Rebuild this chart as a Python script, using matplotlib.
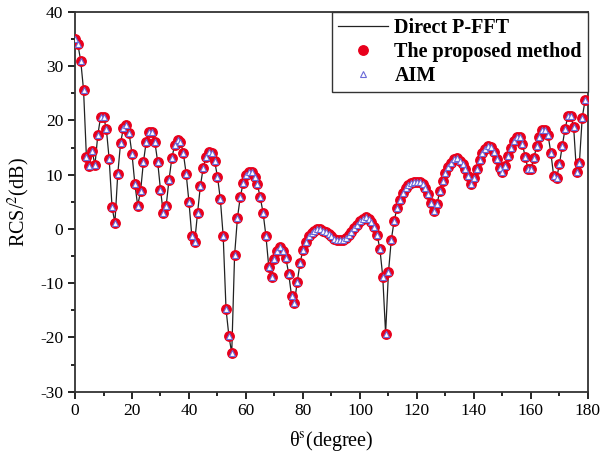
import numpy as np
import matplotlib
matplotlib.use('Agg')
import matplotlib.pyplot as plt

plt.rcParams['font.family'] = ['Liberation Serif', 'DejaVu Serif']
plt.rcParams['mathtext.fontset'] = 'stix'
plt.rcParams['axes.unicode_minus'] = False

# scattering angle (degree), 1 degree steps
theta = np.arange(0, 180)

# RCS values (dB)
rcs_direct = [
    35.0, 34.0, 31.0, 25.6, 13.3, 11.6, 14.3, 11.8, 17.3, 20.7,
    20.7, 18.4, 12.8, 4.0, 1.1, 10.1, 15.9, 18.6, 19.2, 17.6,
    13.8, 8.3, 4.3, 6.9, 12.3, 16.1, 17.8, 17.8, 16.1, 12.4,
    7.2, 2.9, 4.3, 9.1, 13.1, 15.5, 16.4, 16.1, 14.0, 10.2,
    4.9, -1.4, -2.4, 2.9, 7.9, 11.3, 13.3, 14.2, 13.9, 12.5,
    9.6, 5.5, -1.3, -14.8, -19.7, -22.9, -4.9, 2.0, 5.9, 8.4,
    9.9, 10.4, 10.4, 9.6, 8.2, 5.8, 3.0, -1.3, -7.0, -8.9,
    -5.5, -4.0, -3.4, -4.0, -5.4, -8.3, -12.4, -13.6, -9.7, -6.2,
    -3.9, -2.4, -1.3, -0.7, -0.3, -0.1, -0.1, -0.3, -0.6, -1.0,
    -1.4, -1.8, -2.0, -2.1, -2.0, -1.7, -1.2, -0.6, 0.1, 0.8,
    1.4, 1.9, 2.1, 1.8, 1.3, 0.4, -1.1, -3.7, -8.8, -19.3,
    -8.0, -2.0, 1.5, 3.8, 5.4, 6.6, 7.5, 8.1, 8.4, 8.6,
    8.7, 8.6, 8.2, 7.6, 6.4, 4.7, 3.3, 4.5, 6.9, 8.8,
    10.3, 11.4, 12.2, 12.8, 13.0, 12.6, 12.0, 11.0, 9.7, 8.2,
    9.3, 11.1, 12.7, 13.9, 14.8, 15.3, 15.1, 14.2, 12.8, 11.2,
    10.4, 11.6, 13.4, 15.0, 16.2, 16.9, 16.9, 15.6, 13.3, 11.0,
    11.0, 13.0, 15.2, 17.0, 18.3, 18.3, 17.3, 14.0, 9.7, 9.3,
    11.9, 15.3, 18.5, 20.8, 20.8, 18.7, 10.4, 12.1, 20.5, 23.7,
]
# the other two methods agree with the direct solution
rcs_proposed = list(rcs_direct)
rcs_aim = list(rcs_direct)

fig = plt.figure(figsize=(6.02, 4.57), dpi=100)
ax = fig.add_axes([0.1246, 0.143, 0.852, 0.831])

ax.plot(theta, rcs_direct, '-', color='#222222', lw=0.9, label='Direct P-FFT', zorder=2)
ax.plot(theta, rcs_proposed, 'o', color='#e8001c', ms=6.8, mec='#e8001c', ls='none',
        label='The proposed method', zorder=3)
ax.plot(theta, rcs_aim, '^', mfc='white', mec='#6a6ad8', mew=0.8, ms=3.8, ls='none',
        label='AIM', zorder=4)

ax.set_xlim(0, 180)
ax.set_ylim(-30, 40)
ax.set_xticks(np.arange(0, 181, 20))
ax.set_xticks(np.arange(0, 181, 10), minor=True)
ax.set_yticks(np.arange(-30, 41, 10))
ax.set_yticks(np.arange(-30, 41, 5), minor=True)
ax.tick_params(which='both', direction='out', top=False, right=False, labelsize=12.5, width=1.2)
ax.tick_params(which='major', length=5)
ax.tick_params(which='minor', length=3)
for s in ax.spines.values():
    s.set_linewidth(1.3)
    s.set_color('#333333')

ax.set_xlabel('θ$^{\\mathrm{s}}$(degree)', fontsize=14.5, labelpad=7)
ax.set_ylabel('RCS/$^{2}$(dB)', fontsize=14.5, labelpad=6)

leg = ax.legend(loc='upper right', borderaxespad=0, fancybox=False, framealpha=1,
                edgecolor='#333333', prop={'weight': 'bold', 'size': 14.5},
                handlelength=2.5, handletextpad=0.3, labelspacing=0.2,
                borderpad=0.3)
leg.get_frame().set_linewidth(1.0)

fig.savefig('out.png', dpi=100)
